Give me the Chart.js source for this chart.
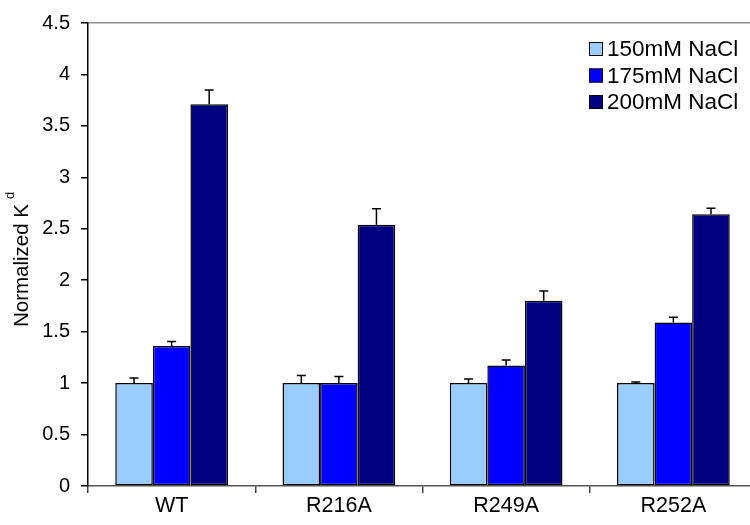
<!DOCTYPE html>
<html>
<head>
<meta charset="utf-8">
<script src="https://cdn.jsdelivr.net/npm/chart.js@4/dist/chart.umd.min.js"></script>
<style>
  html, body { margin: 0; padding: 0; background: #fff; overflow: hidden; }
  #wrap { width: 760px; height: 525px; }
</style>
</head>
<body>
<div id="wrap"><canvas id="kd" width="760" height="525"></canvas></div>
<script>
// Mutants on the x axis
const categories = ['WT', 'R216A', 'R249A', 'R252A'];

// Salt conditions
const seriesNames = ['150mM NaCl', '175mM NaCl', '200mM NaCl'];

// Normalized Kd per salt condition
const kd150 = [1.00, 1.00, 1.00, 1.00];
const kd175 = [1.36, 1.00, 1.17, 1.59];
const kd200 = [3.71, 2.54, 1.80, 2.64];

// Upper error (standard deviation)
const err150 = [0.05, 0.075, 0.04, 0.012];
const err175 = [0.045, 0.065, 0.055, 0.05];
const err200 = [0.14, 0.155, 0.095, 0.06];

const seriesColors = ['#99CCFF', '#0000FF', '#000080'];
const FONT = 'Liberation Sans, Arial, sans-serif';

const values = [kd150, kd175, kd200];
const errors = [err150, err175, err200];

// Upward-only error bars with a small cap
const errorBars = {
  id: 'errorBars',
  afterDatasetsDraw(chart) {
    const ctx = chart.ctx;
    const y = chart.scales.y;
    ctx.save();
    ctx.strokeStyle = '#000';
    ctx.lineWidth = 1.5;
    chart.data.datasets.forEach((ds, i) => {
      const meta = chart.getDatasetMeta(i);
      meta.data.forEach((bar, j) => {
        const top = y.getPixelForValue(ds.data[j]);
        const tip = y.getPixelForValue(ds.data[j] + errors[i][j]);
        ctx.beginPath();
        ctx.moveTo(bar.x, top);
        ctx.lineTo(bar.x, tip);
        ctx.moveTo(bar.x - 4.5, tip);
        ctx.lineTo(bar.x + 4.5, tip);
        ctx.stroke();
      });
    });
    ctx.restore();
  }
};

// Legend stacked in the upper right of the plot area
const insetLegend = {
  id: 'insetLegend',
  afterDraw(chart) {
    const ctx = chart.ctx;
    const area = chart.chartArea;
    const x0 = area.right - 168;
    const y0 = area.top + 26;
    const step = 26.5;
    ctx.save();
    ctx.font = '22.5px ' + FONT;
    ctx.textBaseline = 'middle';
    ctx.textAlign = 'left';
    chart.data.datasets.forEach((ds, i) => {
      const cy = y0 + i * step;
      ctx.fillStyle = ds.backgroundColor;
      ctx.fillRect(x0, cy - 7, 14, 14);
      ctx.strokeStyle = '#000';
      ctx.lineWidth = 1;
      ctx.strokeRect(x0 + 0.5, cy - 6.5, 13, 13);
      ctx.fillStyle = '#000';
      ctx.fillText(ds.label, x0 + 18, cy + 1);
    });
    ctx.restore();
  }
};

// Rotated y axis title with a small "d"
const yTitle = {
  id: 'yTitle',
  afterDraw(chart) {
    const ctx = chart.ctx;
    const area = chart.chartArea;
    const mid = (area.top + area.bottom) / 2;
    ctx.save();
    ctx.fillStyle = '#000';
    ctx.font = '20.5px ' + FONT;
    const main = 'Normalized K';
    const w = ctx.measureText(main).width;
    const total = w + 12;
    ctx.translate(28, mid + total / 2 + 5);
    ctx.rotate(-Math.PI / 2);
    ctx.textAlign = 'left';
    ctx.textBaseline = 'alphabetic';
    ctx.fillText(main, 0, 0);
    ctx.font = '13px ' + FONT;
    ctx.fillText('d', w + 5, -14);
    ctx.restore();
  }
};

new Chart(document.getElementById('kd'), {
  type: 'bar',
  data: {
    labels: categories,
    datasets: seriesNames.map((name, i) => ({
      label: name,
      data: values[i],
      backgroundColor: seriesColors[i],
      borderColor: '#000',
      borderWidth: 1.5,
      borderSkipped: false,
      categoryPercentage: 0.674,
      barPercentage: 1.0
    }))
  },
  options: {
    responsive: false,
    animation: false,
    devicePixelRatio: 1,
    layout: { padding: { top: 22, right: 3, left: 0, bottom: 0 } },
    plugins: {
      legend: { display: false },
      tooltip: { enabled: false }
    },
    scales: {
      x: {
        grid: {
          offset: true,
          drawOnChartArea: false,
          tickLength: 7,
          tickColor: '#444',
          lineWidth: 1.5
        },
        border: { display: true, color: '#555', width: 1.5 },
        ticks: { color: '#000', font: { family: FONT, size: 21.5 }, padding: 0 },
        afterFit(scale) { scale.height = 39; }
      },
      y: {
        min: 0,
        max: 4.5,
        ticks: {
          stepSize: 0.5,
          color: '#000',
          font: { family: FONT, size: 20 },
          padding: 11,
          callback: v => String(Number(v))
        },
        grid: {
          drawOnChartArea: true,
          color: ctx => (ctx.tick && ctx.tick.value === 4.5 ? '#909090' : 'rgba(0,0,0,0)'),
          tickColor: '#000',
          tickLength: 7,
          lineWidth: 1.5
        },
        border: { display: true, color: '#000', width: 1.5 },
        afterFit(scale) { scale.width = 88; }
      }
    }
  },
  plugins: [errorBars, insetLegend, yTitle]
});
</script>
</body>
</html>
